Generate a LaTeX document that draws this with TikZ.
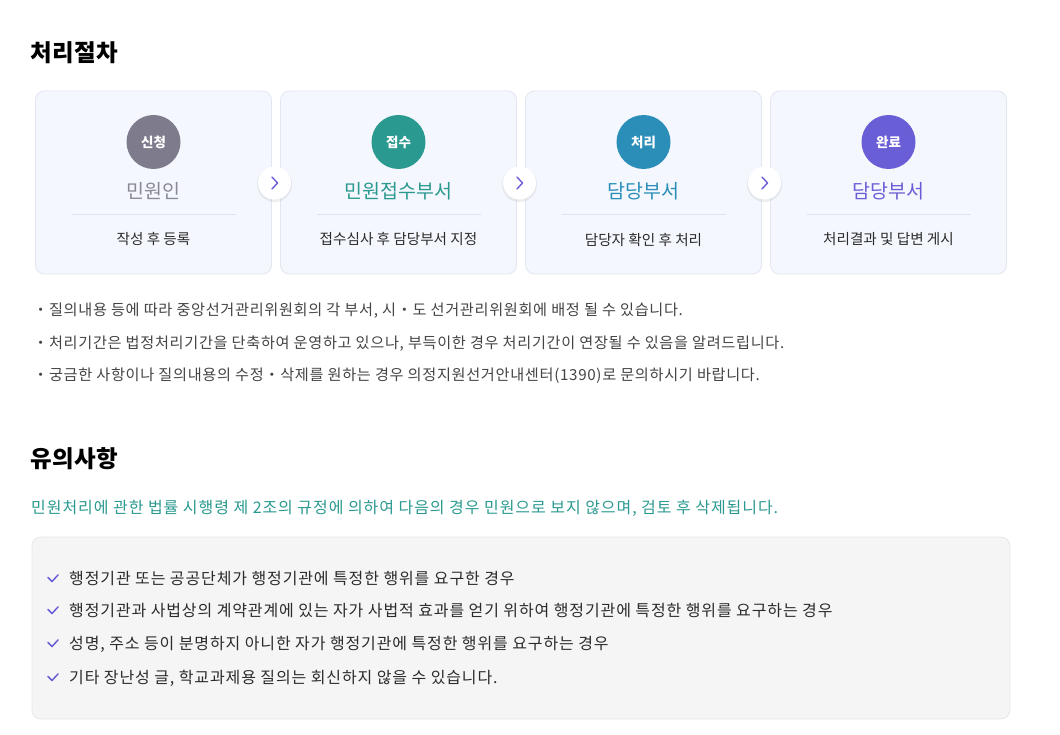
\documentclass[tikz,border=0pt]{standalone}
\usepackage{fontspec}
\setmainfont{Noto Sans CJK KR}
\usetikzlibrary{shadows}
\definecolor{cgray}{HTML}{7E7C8C}
\definecolor{cgrayt}{HTML}{8A8894}
\definecolor{cteal}{HTML}{2A998F}
\definecolor{cblue}{HTML}{2A8EB8}
\definecolor{cpurple}{HTML}{6A5ED6}
\definecolor{cardfill}{HTML}{F4F7FE}
\definecolor{cardline}{HTML}{E2E6F1}
\definecolor{divline}{HTML}{DFE3EC}
\definecolor{boxfill}{HTML}{F5F5F5}
\definecolor{boxline}{HTML}{E8E8E8}
\definecolor{txtdark}{HTML}{2B2B2B}
\definecolor{txtmid}{HTML}{444444}
\newcommand\lsp[1]{\addfontfeature{LetterSpace=#1}}
\begin{document}
\begin{tikzpicture}[x=1pt,y=-1pt,
  card/.style={draw=cardline, fill=cardfill, line width=0.8pt, rounded corners=9pt,
    minimum width=236pt, minimum height=183pt, inner sep=0pt},
  badge/.style={circle, minimum size=54pt, inner sep=0pt, text=white,
    font=\fontsize{13.5}{15}\selectfont\bfseries},
  ctitle/.style={font=\fontsize{19.5}{22}\selectfont\lsp{0.6}, inner sep=0pt},
  csub/.style={font=\fontsize{14.6}{17}\selectfont, text=txtdark, inner sep=0pt},
  divider/.style={draw=divline, line width=0.8pt},
  nextbtn/.style={circle, fill=white, minimum size=33pt, inner sep=0pt,
    drop shadow={opacity=0.13, shadow xshift=0pt, shadow yshift=-1.5pt, shadow scale=1.06}},
  chev/.style={draw=cpurple, line width=1.4pt, line cap=round, line join=round},
  head/.style={font=\fontsize{23.5}{26}\selectfont\bfseries\lsp{2}, text=black, anchor=base west, inner sep=0pt},
  bullet/.style={font=\fontsize{15.2}{17}\selectfont\lsp{4.4}, text=txtmid, anchor=base west, inner sep=0pt},
  note/.style={font=\fontsize{16}{18}\selectfont\lsp{5.9}, text=cteal, anchor=base west, inner sep=0pt},
  item/.style={font=\fontsize{16}{18}\selectfont\lsp{5.5}, text=txtdark, anchor=base west, inner sep=0pt},
  check/.style={draw=cpurple, line width=1.5pt, line cap=round, line join=round},
  panel/.style={draw=boxline, fill=boxfill, line width=0.8pt, rounded corners=9pt,
    minimum width=978pt, minimum height=182pt, inner sep=0pt}
]
\useasboundingbox[fill=white] (0,0) rectangle (1060,735);

% ---- heading 1
\node[head] (h1) at (30,62) {처리절차};

% ---- cards
\node[card] (c1) at (153.5,182.5) {};
\node[card] (c2) at (398.5,182.5) {};
\node[card] (c3) at (643.5,182.5) {};
\node[card] (c4) at (888.5,182.5) {};

\node[badge, fill=cgray]   (b1) at (153.5,142) {신청};
\node[badge, fill=cteal]   (b2) at (398.5,142) {접수};
\node[badge, fill=cblue]   (b3) at (643.5,142) {처리};
\node[badge, fill=cpurple] (b4) at (888.5,142) {완료};

\node[ctitle, text=cgrayt]  (t1) at (153.5,191.5) {민원인};
\node[ctitle, text=cteal]   (t2) at (398.5,191.5) {민원접수부서};
\node[ctitle, text=cblue]   (t3) at (643.5,191.5) {담당부서};
\node[ctitle, text=cpurple] (t4) at (888.5,191.5) {담당부서};

\draw[divider] (71.5,214) -- (235.5,214);
\draw[divider] (316.5,214) -- (480.5,214);
\draw[divider] (561.5,214) -- (725.5,214);
\draw[divider] (806.5,214) -- (970.5,214);

\node[csub] (s1) at (153.5,239.5) {작성 후 등록};
\node[csub] (s2) at (398.5,239.5) {접수심사 후 담당부서 지정};
\node[csub] (s3) at (643.5,239.5) {담당자 확인 후 처리};
\node[csub] (s4) at (888.5,239.5) {처리결과 및 답변 게시};

% ---- next buttons
\node[nextbtn] (n1) at (274.5,183) {};
\node[nextbtn] (n2) at (519.5,183) {};
\node[nextbtn] (n3) at (764.5,183) {};
\foreach \n in {n1,n2,n3}{
  \draw[chev] (\n.center) ++(-2.5,-6) -- ++(5.5,6) -- ++(-5.5,6);
}

% ---- bullet notes
\node[bullet] (l1) at (33,316) {・질의내용 등에 따라 중앙선거관리위원회의 각 부서, 시・도 선거관리위원회에 배정 될 수 있습니다.};
\node[bullet] (l2) at (33,348) {・처리기간은 법정처리기간을 단축하여 운영하고 있으나, 부득이한 경우 처리기간이 연장될 수 있음을 알려드립니다.};
\node[bullet] (l3) at (33,380.5) {・궁금한 사항이나 질의내용의 수정・삭제를 원하는 경우 의정지원선거안내센터(1390)로 문의하시기 바랍니다.};

% ---- heading 2
\node[head] (h2) at (30,467.5) {유의사항};
\node[note] (nt) at (31,513) {민원처리에 관한 법률 시행령 제 2조의 규정에 의하여 다음의 경우 민원으로 보지 않으며, 검토 후 삭제됩니다.};

% ---- panel
\node[panel] (pn) at (521,628) {};

\node[item] (i1) at (69,584) {행정기관 또는 공공단체가 행정기관에 특정한 행위를 요구한 경우};
\node[item] (i2) at (69,616) {행정기관과 사법상의 계약관계에 있는 자가 사법적 효과를 얻기 위하여 행정기관에 특정한 행위를 요구하는 경우};
\node[item] (i3) at (69,649) {성명, 주소 등이 분명하지 아니한 자가 행정기관에 특정한 행위를 요구하는 경우};
\node[item] (i4) at (69,683) {기타 장난성 글, 학교과제용 질의는 회신하지 않을 수 있습니다.};

\foreach \i in {i1,i2,i3,i4}{
  \draw[check] ([xshift=-21pt,yshift=6.5pt]\i.base west) -- ++(4,4) -- ++(6,-6.5);
}
\end{tikzpicture}
\end{document}
